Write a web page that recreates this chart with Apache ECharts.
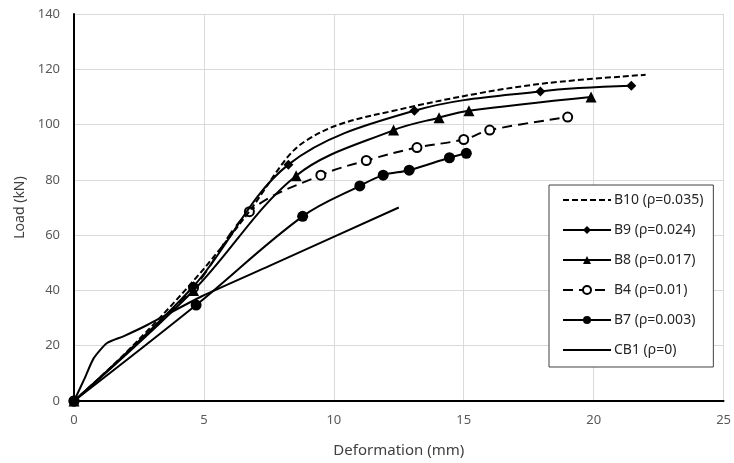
<!DOCTYPE html>
<html>
<head>
<meta charset="utf-8">
<script src="https://cdn.jsdelivr.net/npm/echarts@6/dist/echarts.min.js"></script>
<style>
  html, body { margin: 0; padding: 0; background: #fff; }
  #chart { width: 734px; height: 463px; }
</style>
</head>
<body>
<div id="chart"></div>
<script>
// 各试件荷载-变形数据 [变形 mm, 荷载 kN]
const b10 = [[0, 0], [2, 17.5], [4.6, 43.5], [6.7, 68], [8.2, 88], [8.9, 94], [10.2, 100], [12.3, 105], [15.4, 111], [18.2, 115], [22, 118]];
const b9 = [[0, 0], [4.6, 41.5], [8.25, 85.5], [13.1, 105], [17.95, 112], [21.45, 114]];
const b8 = [[0, 0], [4.6, 40], [8.55, 81.5], [12.3, 98], [14.05, 102.5], [15.2, 105], [19.9, 110]];
const b4 = [[0, 0], [4.6, 41], [6.75, 68.5], [9.5, 81.7], [11.25, 87], [13.2, 91.7], [15, 94.6], [16, 98], [19, 102.7]];
const b7 = [[0, 0], [4.7, 34.7], [8.8, 66.8], [11, 77.8], [11.9, 81.7], [12.9, 83.5], [14.45, 88], [15.1, 89.6]];
const cb1 = [[0, 0], [0.4, 8], [0.76, 15.5], [1.26, 20.9], [1.9, 23.4], [2.8, 27.4], [4.9, 37.8], [7.5, 48.8], [12.5, 70]];

const seriesNames = ['B10 (ρ=0.035)', 'B9 (ρ=0.024)', 'B8 (ρ=0.017)', 'B4 (ρ=0.01)', 'B7 (ρ=0.003)', 'CB1 (ρ=0)'];
// 无标记的曲线，图例里只画线
const noMarker = ['B10 (ρ=0.035)', 'CB1 (ρ=0)'];

const font = 'Noto Sans';
let chart = echarts.init(document.getElementById('chart'));

// 通用折线样式
function makeLine(name, data, symbol, size, dash, smooth, z) {
  return {
    name: name,
    type: 'line',
    data: data,
    smooth: smooth || 0.35,
    symbol: symbol,
    symbolSize: size,
    showSymbol: symbol !== 'none',
    lineStyle: { color: '#000', width: 2, type: dash || 'solid' },
    itemStyle: { color: '#000', borderColor: '#000', borderWidth: symbol === 'emptyCircle' ? 1.3 : 0 },
    z: z || 3
  };
}

let legendData = seriesNames.map((n) => {
  if (noMarker.indexOf(n) >= 0) {
    return { name: n, itemStyle: { opacity: 0 } };
  }
  return { name: n };
});

let option = {
  animation: false,
  backgroundColor: '#fff',
  grid: { left: 74, right: 5, top: 14, bottom: 60 },
  legend: {
    orient: 'vertical',
    left: 549,
    top: 185,
    width: 174,
    height: 180,
    padding: [8, 10, 10, 13],
    itemWidth: 48,
    itemHeight: 10,
    itemGap: 16,
    borderColor: '#404040',
    borderWidth: 1,
    backgroundColor: '#fff',
    data: legendData,
    textStyle: { fontFamily: font, fontSize: 14, color: '#262626', padding: [0, 0, 0, -2] }
  },
  xAxis: {
    type: 'value',
    min: 0,
    max: 25,
    interval: 5,
    name: 'Deformation (mm)',
    nameLocation: 'middle',
    nameGap: 42,
    nameTextStyle: { fontFamily: font, fontSize: 15, color: '#404040' },
    axisLine: { onZero: false, lineStyle: { color: '#000', width: 2 } },
    axisTick: { show: false },
    axisLabel: { fontFamily: font, fontSize: 13, color: '#595959', margin: 13 },
    splitLine: { lineStyle: { color: '#d9d9d9', width: 1 } }
  },
  yAxis: {
    type: 'value',
    min: 0,
    max: 140,
    interval: 20,
    name: 'Load (kN)',
    nameLocation: 'middle',
    nameGap: 46,
    nameTextStyle: { fontFamily: font, fontSize: 14, color: '#404040' },
    axisLine: { show: true, lineStyle: { color: '#000', width: 2 } },
    axisTick: { show: false },
    axisLabel: { fontFamily: font, fontSize: 13, color: '#595959', margin: 14 },
    splitLine: { lineStyle: { color: '#d9d9d9', width: 1 } }
  },
  series: [
    makeLine(seriesNames[0], b10, 'none', 0, [6, 3]),
    makeLine(seriesNames[1], b9, 'diamond', 10),
    makeLine(seriesNames[2], b8, 'triangle', 11),
    makeLine(seriesNames[3], b4, 'emptyCircle', 9, [10, 6], null, 2),
    makeLine(seriesNames[4], b7, 'circle', 11),
    makeLine(seriesNames[5], cb1, 'none', 0, null, 0.2)
  ]
};

chart.setOption(option);
</script>
</body>
</html>
